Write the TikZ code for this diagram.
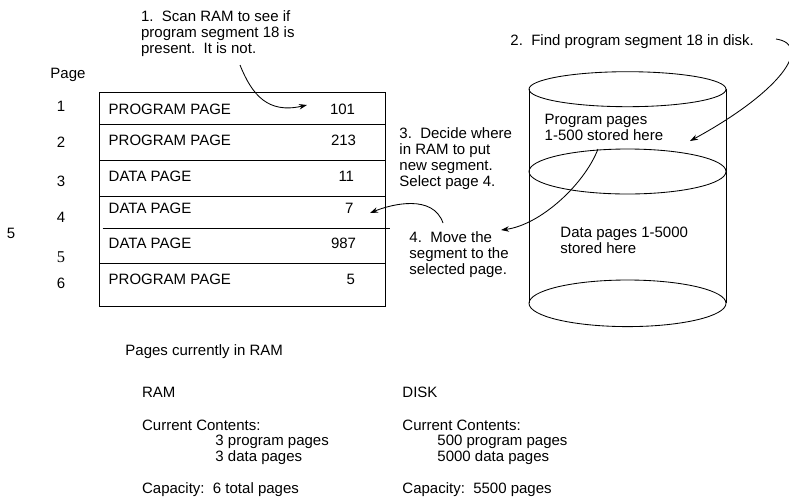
\documentclass[tikz,border=0pt]{standalone}
\usepackage{fontspec}
\setmainfont{Liberation Sans}
\newfontfamily\serifnum{Liberation Serif}
\usetikzlibrary{arrows,arrows.meta}

\begin{document}
\begin{tikzpicture}[>={Stealth[length=8pt,width=5.5pt]},x=1pt,y=-1pt,line width=0.03cm,font=\fontsize{15}{16}\selectfont]
%line width=0.03cm

  \useasboundingbox (0,0) rectangle (789,496);
  \tikzstyle{lbl}=[inner sep=0pt,anchor=base west]
  \tikzstyle{para}=[inner sep=0pt,anchor=north west,align=left]
  \tikzstyle{pnum}=[inner sep=0pt,anchor=base]
  \tikzstyle{cnt}=[inner sep=0pt,anchor=base east]

  % RAM pages
  \node[draw,inner sep=0pt,minimum width=286.2pt,minimum height=214.2pt] (ram) at (242.4,199.4) {};
  \draw (99.3,124.5) -- (385.5,124.5);
  \draw (99.3,160.5) -- (385.5,160.5);
  \draw (99.3,196) -- (385.5,196);
  \draw (102.7,228) -- (390,228);
  \draw (99.3,263.5) -- (385.5,263.5);

  \node[lbl] (page) at (50,78.3) {Page};
  \node[pnum] (p1) at (61,111) {1};
  \node[pnum] (p2) at (61,147) {2};
  \node[pnum] (p3) at (61,186) {3};
  \node[pnum] (p4) at (61,222) {4};
  \node[pnum] (p5x) at (11,238.5) {5};
  \node[pnum,font=\fontsize{16.5}{17}\serifnum] (p5) at (61,262) {5};
  \node[pnum] (p6) at (61,288) {6};

  \node[lbl] (r1) at (108.3,114.3) {PROGRAM PAGE};
  \node[lbl] (r2) at (108.3,145.7) {PROGRAM PAGE};
  \node[lbl] (r3) at (108.3,181.7) {DATA PAGE};
  \node[lbl] (r4) at (108.3,213.3) {DATA PAGE};
  \node[lbl] (r5) at (108.3,248.3) {DATA PAGE};
  \node[lbl] (r6) at (108.3,284.3) {PROGRAM PAGE};
  \node[cnt] (n1) at (355.5,114.3) {101};
  \node[cnt] (n2) at (356.5,145.7) {213};
  \node[cnt] (n3) at (354.5,181.7) {11};
  \node[cnt] (n4) at (354,213.3) {7};
  \node[cnt] (n5) at (356.5,248.3) {987};
  \node[cnt] (n6) at (355.5,284.3) {5};

  % disk
  \draw (627.5,89.2) ellipse [x radius=98.5pt,y radius=17.5pt];
  \draw (627.5,171.5) ellipse [x radius=98.5pt,y radius=22.5pt];
  \draw (627.5,303.3) ellipse [x radius=98.5pt,y radius=23.3pt];
  \draw (529,89.2) -- (529,303.3);
  \draw (726,89.2) -- (726,303.3);
  \node[para] (prog) at (544.3,114) {Program pages\\1-500 stored here};
  \node[para] (data) at (560,227) {Data pages 1-5000\\stored here};

  % steps
  \node[para] (step1) at (140.7,9.7) {1.\ \ Scan RAM to see if\\program segment 18 is\\present.\ \ It is not.};
  \node[lbl] (step2) at (510,45) {2.\ \ Find program segment 18 in disk.};
  \node[para] (step3) at (399,127.3) {3.\ \ Decide where\\in RAM to put\\new segment.\\Select page 4.};
  \node[para] (step4) at (409,230.7) {4.\ \ Move the\\segment to the\\selected page.};

  \coordinate (a1) at (240,65);
  \coordinate (h1) at (307,105);
  \coordinate (a2) at (776,39);
  \coordinate (h2) at (690,141);
  \coordinate (a3) at (443,223);
  \coordinate (h3) at (370,213);
  \coordinate (a4) at (598,149);
  \coordinate (h4) at (501,230);
  \draw[->] (a1) .. controls (252,95) and (268,114) .. (h1);
  \draw[->] (a2) .. controls (814,45) and (780,92) .. (h2);
  \draw[->] (a3) .. controls (433,194) and (392,204) .. (h3);
  \draw[->] (a4) .. controls (584,185) and (540,225) .. (h4);

  % summary
  \node[lbl] (incore) at (125,355) {Pages currently in RAM};
  \node[lbl] (ramh) at (141.7,397.3) {RAM};
  \node[lbl] (ramcc) at (141.7,430) {Current Contents:};
  \node[para] (ramls) at (215,435) {3 program pages\\3 data pages};
  \node[lbl] (ramcap) at (141.7,493.3) {Capacity:\ \ 6 total pages};
  \node[lbl] (diskh) at (402,397.3) {DISK};
  \node[lbl] (diskcc) at (402,430) {Current Contents:};
  \node[para] (diskls) at (437,435) {500 program pages\\5000 data pages};
  \node[lbl] (diskcap) at (402,493.3) {Capacity:\ \ 5500 pages};
\end{tikzpicture}
\end{document}
